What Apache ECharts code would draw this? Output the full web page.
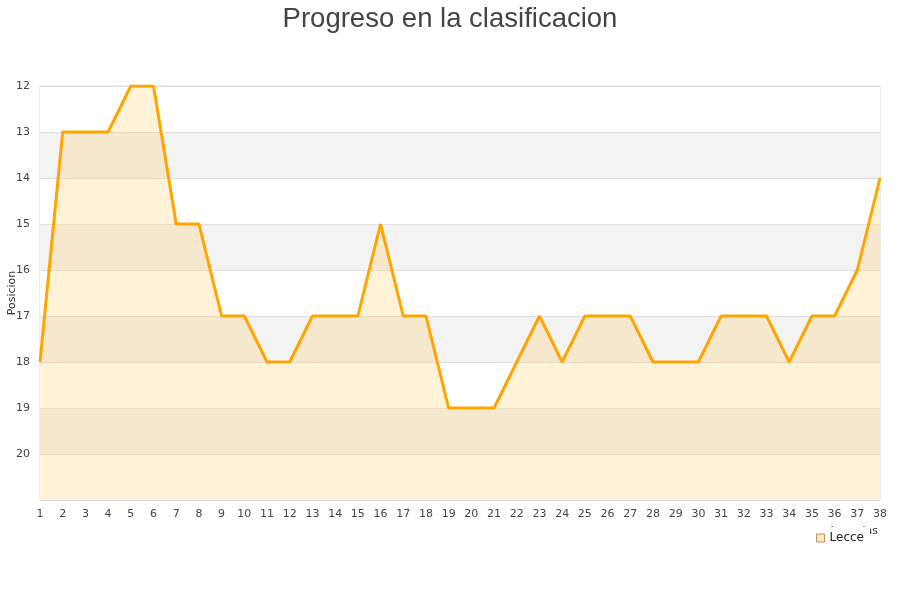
<!DOCTYPE html>
<html><head><meta charset="utf-8">
<script src="https://cdn.jsdelivr.net/npm/echarts@6/dist/echarts.min.js"></script>
<style>html,body{margin:0;padding:0;background:#fff}#c{width:900px;height:600px}</style>
</head><body><div id="c"></div>
<script>
const jornadas = Array.from({length: 38}, (_, i) => String(i + 1));
const lecce = [18,13,13,13,12,12,15,15,17,17,18,18,17,17,17,15,17,17,19,19,19,18,17,18,17,17,17,18,18,18,17,17,17,18,17,17,16,14];
const yTicks = [12,13,14,15,16,17,18,19,20];

const chart = echarts.init(document.getElementById('c'));
chart.setOption({
  backgroundColor: '#fff',
  animation: false,
  title: {
    text: 'Progreso en la clasificacion',
    left: 'center', top: 0,
    textStyle: {fontFamily: 'Liberation Sans', fontSize: 27.5, fontWeight: 'normal', color: '#444'}
  },
  grid: {left: 40, right: 20, top: 86, bottom: 100, containLabel: false, outerBoundsMode: 'none',
    show: true, borderColor: '#ddd', borderWidth: 1},
  legend: {
    right: 30, top: 527,
    padding: [5, 6, 4, 5],
    backgroundColor: '#fff',
    itemWidth: 8, itemHeight: 8, icon: 'rect', itemGap: 6,
    textStyle: {fontFamily: 'DejaVu Sans', fontSize: 12, color: '#222'},
    data: [{name: 'Lecce', itemStyle: {color: '#fde9c4', borderColor: '#b89060', borderWidth: 1}}]
  },
  xAxis: {
    type: 'category', data: jornadas, boundaryGap: false,
    name: 'Jornadas', nameLocation: 'end', nameGap: -2, nameMoveOverlap: false,
    nameTextStyle: {fontFamily: 'DejaVu Sans', fontSize: 11, color: '#333', align: 'right', verticalAlign: 'top', padding: [26, 0, 0, 0]},
    axisLine: {show: false}, axisTick: {show: false},
    axisLabel: {fontFamily: 'DejaVu Sans', fontSize: 11, color: '#444', margin: 9, interval: 0},
    splitLine: {show: false}
  },
  yAxis: {
    type: 'value', inverse: true, min: 12, max: 21, interval: 1,
    name: 'Posicion', nameLocation: 'middle', nameGap: 22, nameMoveOverlap: false,
    nameTextStyle: {fontFamily: 'DejaVu Sans', fontSize: 11, color: '#333'},
    axisLine: {show: false}, axisTick: {show: false},
    axisLabel: {fontFamily: 'DejaVu Sans', fontSize: 11, color: '#444', margin: 10,
      formatter: v => yTicks.includes(v) ? String(v) : ''},
    splitLine: {show: true, lineStyle: {color: '#e0e0e0', width: 1}},
    splitArea: {show: true, areaStyle: {color: ['#ffffff', '#f3f3f3']}}
  },
  series: [{
    name: 'Lecce', type: 'line', data: lecce,
    symbol: 'none',
    lineStyle: {color: '#ffa500', width: 3},
    itemStyle: {color: '#ffa500'},
    areaStyle: {color: 'rgba(255,195,70,0.32)', origin: 'end'}
  }]
});
</script></body></html>
